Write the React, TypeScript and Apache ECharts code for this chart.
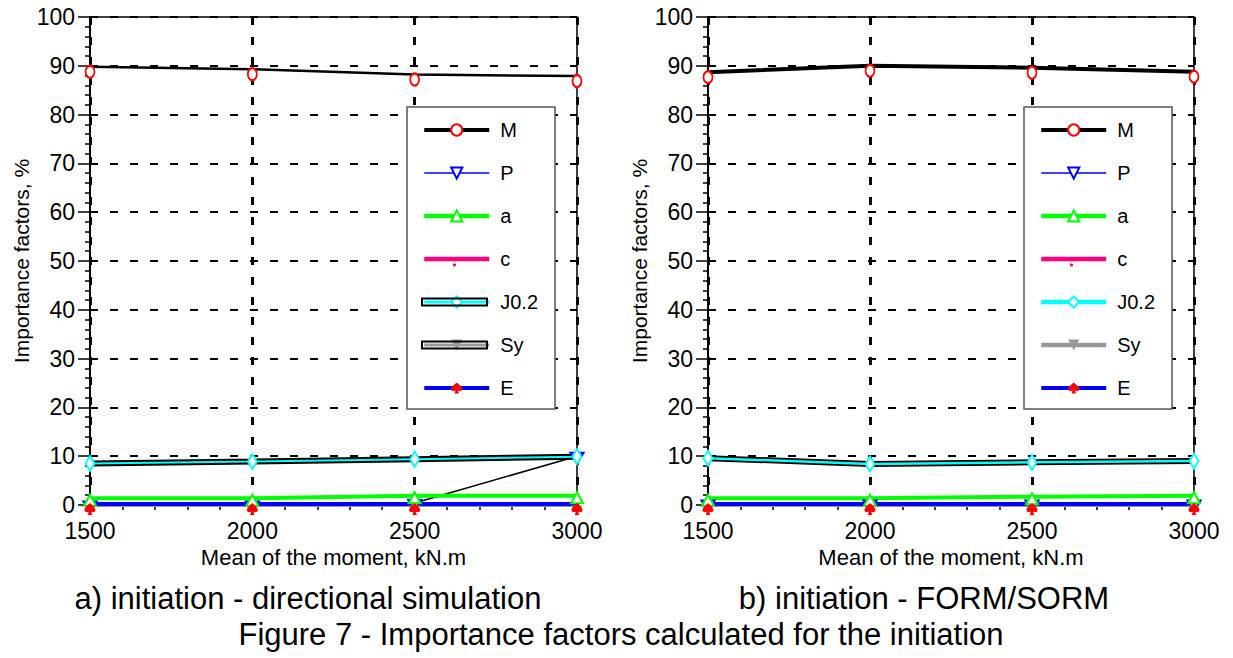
import React, { useEffect, useRef } from "react";
import * as echarts from "echarts";

const xValues = [1500, 2000, 2500, 3000];
const seriesNames = ["M", "P", "a", "c", "J0.2", "Sy", "E"];

// a) initiation - directional simulation
const aM = [89.8, 89.3, 88.2, 87.9];
const aP = [0, 0, 0.4, 10.0];
const aA = [1.4, 1.4, 1.9, 1.9];
const aC = [0, 0, 0, 0];
const aJ = [8.5, 8.9, 9.4, 9.9];
const aSy = [0, 0, 0, 0];
const aE = [0.2, 0.2, 0.2, 0.2];

// b) initiation - FORM/SORM
const bM = [88.7, 90.0, 89.6, 88.8];
const bP = [0.2, 0.2, 0.2, 0.2];
const bA = [1.4, 1.4, 1.7, 1.9];
const bC = [0, 0, 0, 0];
const bJ = [9.6, 8.4, 8.75, 9.0];
const bSy = [0, 0, 0, 0];
const bE = [0.2, 0.2, 0.2, 0.2];

const FONT = "'Liberation Sans', Arial, sans-serif";
const spade =
  "path://M5,0 C5,0 0,4.5 0,7 C0,9 2,10 4,8.5 L3,12 L7,12 L6,8.5 C8,10 10,9 10,7 C10,4.5 5,0 5,0 Z";

function pairs(vals: number[]) {
  return xValues.map((x, i) => [x, vals[i]]);
}

function buildSeries(idx: number, prefix: string, d: any, mWidth: number, pLineColor: string, jWidth: number) {
  const common = { xAxisIndex: idx, yAxisIndex: idx, type: "line", clip: false, z: 3 };
  return [
    {
      ...common,
      name: prefix + "M",
      data: pairs(d.M),
      lineStyle: { color: "#000", width: mWidth },
      symbol: "emptyCircle",
      symbolSize: [9, 12],
      symbolOffset: [0, 5],
      itemStyle: { color: "#ff0000", borderWidth: 1.5 },
    },
    {
      ...common,
      name: prefix + "P",
      data: pairs(d.P),
      lineStyle: { color: pLineColor, width: 1.5 },
      symbol: "emptyTriangle",
      symbolRotate: 180,
      symbolSize: [13, 11],
      symbolOffset: [0, 2],
      itemStyle: { color: "#0000ff", borderWidth: 1.2 },
    },
    {
      ...common,
      name: prefix + "a",
      data: pairs(d.A),
      lineStyle: { color: "#00ff00", width: 4 },
      symbol: "emptyTriangle",
      symbolSize: [12, 11],
      symbolOffset: [0, 2],
      itemStyle: { color: "#00ff00", borderWidth: 1.2 },
    },
    {
      ...common,
      name: prefix + "c",
      data: pairs(d.C),
      lineStyle: { color: "#ff0080", width: 4 },
      symbol: "circle",
      symbolSize: 3,
      symbolOffset: [0, 6],
      itemStyle: { color: "#ff0080" },
    },
    {
      ...common,
      name: prefix + "J0.2 outline",
      data: pairs(d.J),
      lineStyle: { color: "#000", width: 6 },
      symbol: "none",
    },
    {
      ...common,
      name: prefix + "J0.2",
      data: pairs(d.J),
      lineStyle: { color: "#00ffff", width: jWidth },
      symbol: "emptyDiamond",
      symbolSize: [9, 15],
      itemStyle: { color: "#00ffff", borderWidth: 1.2 },
    },
    {
      ...common,
      name: prefix + "Sy",
      data: pairs(d.Sy),
      lineStyle: { color: "#999999", width: 4 },
      symbol: "triangle",
      symbolRotate: 180,
      symbolSize: [11, 9],
      symbolOffset: [0, 5],
      itemStyle: { color: "#999999" },
    },
    {
      ...common,
      name: prefix + "E",
      data: pairs(d.E),
      lineStyle: { color: "#0000ff", width: 4 },
      symbol: spade,
      symbolSize: [11, 12],
      symbolOffset: [0, 5],
      itemStyle: { color: "#ff0000" },
    },
  ];
}

function axisPair(idx: number) {
  const x = {
    gridIndex: idx,
    type: "value",
    min: 1500,
    max: 3000,
    interval: 500,
    name: "Mean of the moment, kN.m",
    nameLocation: "middle",
    nameGap: 40,
    nameTextStyle: { fontFamily: FONT, fontSize: 22, color: "#000" },
    axisLine: { show: true, lineStyle: { color: "#000", width: 2 } },
    axisTick: { show: true, length: 8, lineStyle: { color: "#000", width: 2 } },
    minorTick: { show: true, splitNumber: 5, length: 5, lineStyle: { color: "#000", width: 1.5 } },
    axisLabel: { fontFamily: FONT, fontSize: 23, color: "#000", margin: 14, formatter: (v: number) => String(v) },
    splitLine: { show: true, lineStyle: { color: "#000", width: 3, type: [8, 12] } },
  };
  const y = {
    gridIndex: idx,
    type: "value",
    min: 0,
    max: 100,
    interval: 10,
    name: "Importance factors, %",
    nameLocation: "middle",
    nameGap: 58,
    nameTextStyle: { fontFamily: FONT, fontSize: 21, color: "#000" },
    axisLine: { show: true, lineStyle: { color: "#000", width: 2 } },
    axisTick: { show: true, length: 12, lineStyle: { color: "#000", width: 1.5 } },
    minorTick: { show: true, splitNumber: 5, length: 5, lineStyle: { color: "#000", width: 1.5 } },
    axisLabel: { fontFamily: FONT, fontSize: 23, color: "#000", margin: 15 },
    splitLine: { show: true, lineStyle: { color: "#000", width: 2, type: [8, 12] } },
  };
  return { x, y };
}

function legendFor(prefix: string, left: number) {
  const isA = prefix === "a:";
  const styles: Record<string, any> = {
    M: { color: "#000", width: 4 },
    P: { color: "#0000ff", width: 1.5 },
    a: { color: "#00ff00", width: 4.5 },
    c: { color: "#ff0080", width: 4.5 },
    "J0.2": { color: "#00ffff", width: isA ? 3 : 4.5 },
    Sy: { color: "#999999", width: isA ? 3 : 4.5 },
    E: { color: "#0000ff", width: 4 },
  };
  return {
    show: true,
    orient: "vertical",
    left,
    top: 107,
    padding: [13, 17, 11, 15],
    itemGap: 23,
    itemWidth: 65,
    itemHeight: 14,
    selectedMode: false,
    backgroundColor: "#fff",
    borderColor: "#555",
    borderWidth: 1.5,
    textStyle: { fontFamily: FONT, fontSize: 20, color: "#000", padding: [0, 0, 0, 6] },
    formatter: (name: string) => name.replace(prefix, ""),
    data: seriesNames.map((n) => {
      const item: any = { name: prefix + n, lineStyle: styles[n] };
      if (n === "c") item.itemStyle = { color: "transparent", borderColor: "transparent" };
      return item;
    }),
  };
}

export default function App() {
  const ref = useRef<HTMLDivElement>(null);
  useEffect(() => {
    document.body.style.margin = "0";
    if (!ref.current) return;
    const chart = echarts.init(ref.current, null, { renderer: "svg" });
    const A = axisPair(0);
    const B = axisPair(1);
    const caption = (text: string, x: number, y: number) => ({
      type: "text",
      x,
      y,
      z: 10,
      style: { text, fontFamily: FONT, fontSize: 31, fill: "#000", textAlign: "center", textVerticalAlign: "middle" },
    });
    const outline = (x: number, y: number) => ({
      type: "rect",
      z: 20,
      shape: { x, y, width: 65, height: 7 },
      style: { fill: "none", stroke: "#000", lineWidth: 2 },
    });
    const dot = (x: number, y: number) => ({
      type: "circle",
      z: 20,
      shape: { cx: x, cy: y, r: 1.6 },
      style: { fill: "#ff0080" },
    });
    const option: any = {
      animation: false,
      backgroundColor: "#fff",
      grid: [
        { left: 90, top: 17, width: 487, height: 488, show: true, borderColor: "#000", borderWidth: 1.5, backgroundColor: "transparent" },
        { left: 708, top: 17, width: 486, height: 488, show: true, borderColor: "#000", borderWidth: 1.5, backgroundColor: "transparent" },
      ],
      xAxis: [A.x, B.x],
      yAxis: [A.y, B.y],
      legend: [legendFor("a:", 407), legendFor("b:", 1024)],
      series: [
        ...buildSeries(0, "a:", { M: aM, P: aP, A: aA, C: aC, J: aJ, Sy: aSy, E: aE }, 2.5, "#000", 2),
        ...buildSeries(1, "b:", { M: bM, P: bP, A: bA, C: bC, J: bJ, Sy: bSy, E: bE }, 4, "#0000ff", 2.5),
      ],
      graphic: [
        caption("a) initiation - directional simulation", 308, 598),
        caption("b) initiation - FORM/SORM", 924, 598),
        caption("Figure 7 - Importance factors calculated for the initiation", 621, 634),
        outline(422, 298.5),
        outline(422, 341.5),
        dot(454.5, 265),
        dot(1071.5, 265),
      ],
    };
    chart.setOption(option);
    return () => chart.dispose();
  }, []);
  return <div ref={ref} style={{ width: 1233, height: 658 }} />;
}
